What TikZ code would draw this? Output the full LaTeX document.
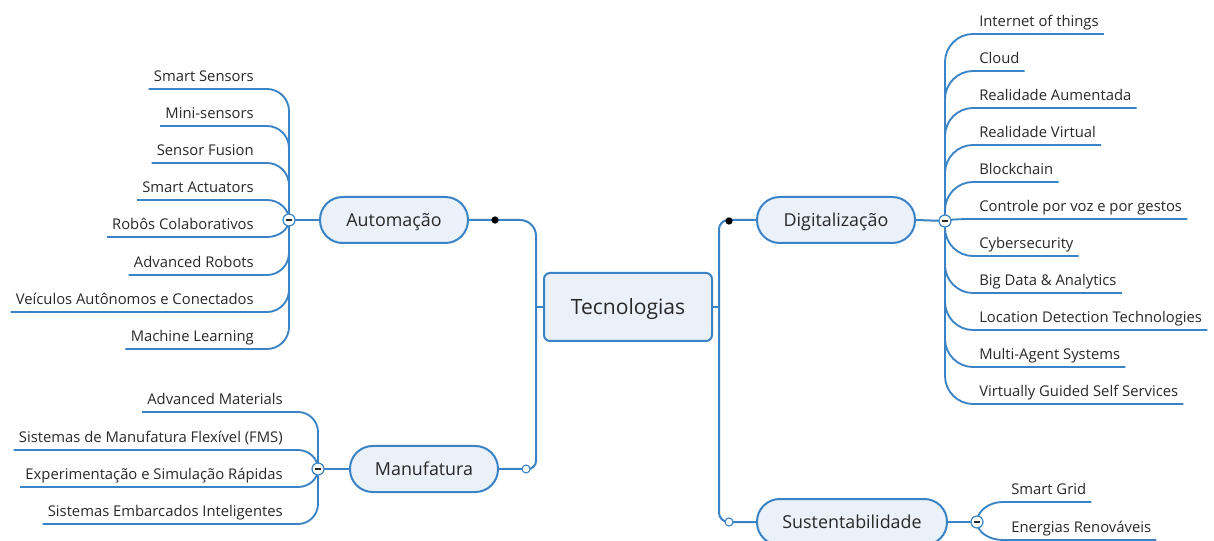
\documentclass[tikz,border=0pt]{standalone}
\usepackage{fontspec}
\setmainfont{Open Sans}
\definecolor{mmblue}{RGB}{58,131,196}
\definecolor{mmfill}{RGB}{234,241,248}
\definecolor{mmtext}{RGB}{40,40,40}

% Branch from a hub point on the vertical spine to a leaf's underline.
% #1 spine x, #2 hub y, #3 underline y, #4 leaf node, #5 direction (+1/-1),
% #6 corner radius, #7 anchor side of the leaf (west/east)
\newcommand\brleaf[7]{%
  \pgfmathsetmacro\brdy{#3-(#2)}%
  \pgfmathsetmacro\brrr{min(#6,abs(\brdy))}%
  \pgfmathsetmacro\brsg{ifthenelse(\brdy<0,-1,1)}%
  \pgfmathsetmacro\brya{#3-\brsg*\brrr}%
  \pgfmathsetmacro\bryb{#3-\brsg*0.45*\brrr}%
  \pgfmathsetmacro\brxa{#1+(#5)*0.45*#6}%
  \pgfmathsetmacro\brxb{#1+(#5)*#6}%
  \draw[leafline] (#1,#2) -- (#1,\brya) .. controls (#1,\bryb) and (\brxa,#3) .. (\brxb,#3) -- (#4.south #7);%
}

\tikzset{
  conn/.style={draw=mmblue, line width=1.5pt},
  leafline/.style={draw=mmblue, line width=1.4pt},
  topic/.style={draw=mmblue, line width=1.5pt, fill=mmfill, text=mmtext,
    rounded corners=17pt, minimum height=34.5pt, inner sep=0pt,
    text height=9.6pt, text depth=0pt,
    font=\fontsize{13.4}{16}\selectfont},
  central/.style={draw=mmblue, line width=1.5pt, fill=mmfill, text=mmtext,
    rounded corners=4.5pt, minimum width=126pt, minimum height=51pt, inner sep=0pt,
    text height=11.4pt, text depth=0pt,
    font=\fontsize{15.8}{19}\selectfont},
  leaf/.style={text=mmtext, inner xsep=3.75pt, inner ysep=5.6pt, text depth=0pt,
    font=\fontsize{11.1}{13}\selectfont},
  leafL/.style={leaf, anchor=south east},
  leafR/.style={leaf, anchor=south west},
  collapse/.style={circle, draw=mmblue, line width=0.9pt, fill=white,
    minimum size=9pt, inner sep=0pt},
  bdot/.style={circle, fill=black, minimum size=5.5pt, inner sep=0pt},
  odot/.style={circle, draw=mmblue, line width=0.8pt, fill=white,
    minimum size=6pt, inner sep=0pt},
  minusbar/.style={draw=mmtext, line width=1pt}
}

\begin{document}
\begin{tikzpicture}[x=0.75pt, y=-0.75pt]
\useasboundingbox (0,0) rectangle (1214,541);

% central topic and main topics
\node[central] (tec) at (628,307) {Tecnologias};
\node[topic, minimum width=111pt] (auto) at (394,220) {Automação};
\node[topic, minimum width=111pt] (manu) at (424,469) {Manufatura};
\node[topic, minimum width=118.5pt] (digi) at (836,220) {Digitalização};
\node[topic, minimum width=142.5pt] (sust) at (852,522) {Sustentabilidade};

% spine junctions
\coordinate (jl) at (536,307);
\coordinate (jr) at (719,307);

% hubs of the leaf groups
\coordinate (ha) at (289,220);
\coordinate (hm) at (318,469);
\coordinate (hd) at (945,221);
\coordinate (hs) at (977,522);

% main connectors
\draw[conn] (auto.east) [rounded corners=12pt] -| (jl) [rounded corners=6pt] |- (manu.east);
\draw[conn] (tec.west) -- (jl);
\draw[conn] (digi.west) [rounded corners=7pt] -| (jr) |- (sust.west);
\draw[conn] (tec.east) -- (jr);

% topic to hub stubs
\draw[conn] (auto.west) -- (ha);
\draw[conn] (manu.west) -- (hm);
\draw[conn] (digi.east) -- (hd);
\draw[conn] (sust.east) -- (hs);

% Automação leaves
\node[leafL] (a1) at (259,89)  {Smart Sensors};
\node[leafL] (a2) at (259,126) {Mini-sensors};
\node[leafL] (a3) at (259,163) {Sensor Fusion};
\node[leafL] (a4) at (259,200) {Smart Actuators};
\node[leafL] (a5) at (259,237) {Robôs Colaborativos};
\node[leafL] (a6) at (259,275) {Advanced Robots};
\node[leafL] (a7) at (259,312) {Veículos Autônomos e Conectados};
\node[leafL] (a8) at (259,349) {Machine Learning};
\foreach \n/\yy in {a1/89,a2/126,a3/163,a4/200,a5/237,a6/275,a7/312,a8/349}
  {\brleaf{289}{220}{\yy}{\n}{-1}{22}{west}}

% Manufatura leaves
\node[leafL] (m1) at (288,412) {Advanced Materials};
\node[leafL] (m2) at (288,450) {Sistemas de Manufatura Flexível (FMS)};
\node[leafL] (m3) at (288,487) {Experimentação e Simulação Rápidas};
\node[leafL] (m4) at (288,524) {Sistemas Embarcados Inteligentes};
\foreach \n/\yy in {m1/412,m2/450,m3/487,m4/524}
  {\brleaf{318}{469}{\yy}{\n}{-1}{20}{west}}

% Digitalização leaves
\node[leafR] (d1)  at (974,34)  {Internet of things};
\node[leafR] (d2)  at (974,71)  {Cloud};
\node[leafR] (d3)  at (974,108) {Realidade Aumentada};
\node[leafR] (d4)  at (974,145) {Realidade Virtual};
\node[leafR] (d5)  at (974,182) {Blockchain};
\node[leafR] (d6)  at (974,219) {Controle por voz e por gestos};
\node[leafR] (d7)  at (974,256) {Cybersecurity};
\node[leafR] (d8)  at (974,293) {Big Data \& Analytics};
\node[leafR] (d9)  at (974,330) {Location Detection Technologies};
\node[leafR] (d10) at (974,367) {Multi-Agent Systems};
\node[leafR] (d11) at (974,404) {Virtually Guided Self Services};
\foreach \n/\yy in {d1/34,d2/71,d3/108,d4/145,d5/182,d6/219,d7/256,d8/293,d9/330,d10/367,d11/404}
  {\brleaf{945}{221}{\yy}{\n}{1}{28}{east}}

% Sustentabilidade leaves
\node[leafR] (s1) at (1006,502) {Smart Grid};
\node[leafR] (s2) at (1006,540) {Energias Renováveis};
\foreach \n/\yy in {s1/502,s2/540}
  {\brleaf{977}{522}{\yy}{\n}{1}{26}{east}}

% markers
\node[bdot] (ka) at (495,220) {};
\node[bdot] (kd) at (729,221) {};
\node[odot] (km) at (526,469) {};
\node[odot] (ks) at (729,522) {};

% collapse buttons
\foreach \h in {ha,hm,hd,hs}{
  \node[collapse] (c\h) at (\h) {};
  \draw[minusbar] ([xshift=-2.2pt]c\h.center) -- ([xshift=2.2pt]c\h.center);
}
\end{tikzpicture}
\end{document}
